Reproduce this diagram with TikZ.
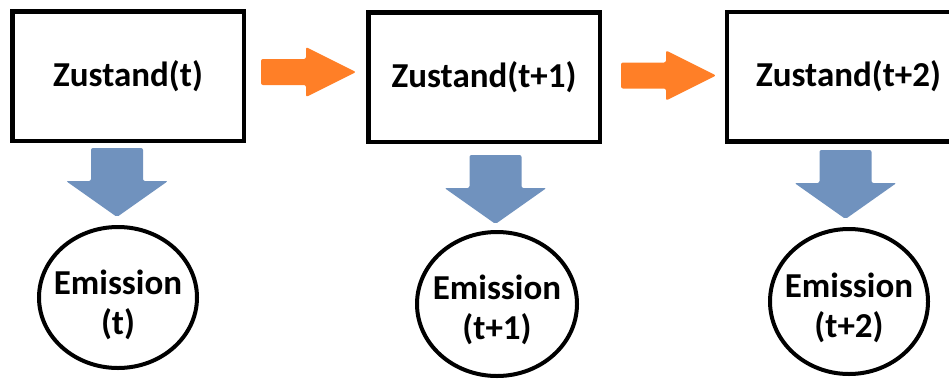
\documentclass[tikz,border=0pt]{standalone}
\usepackage{fontspec}
\setmainfont{Carlito}
\usetikzlibrary{shapes.geometric}

\definecolor{steporange}{RGB}{255,127,39}
\definecolor{emitblue}{RGB}{112,146,190}

\tikzset{
  statebox/.style={draw=black, line width=4.5pt, minimum width=231.5pt,
    minimum height=129.5pt, inner sep=0pt,
    font=\fontsize{35}{40}\selectfont\bfseries},
  emitring/.style={draw=black, line width=4pt, ellipse, inner sep=0pt},
  emitlabel/.style={align=center, inner sep=0pt,
    font=\fontsize{35}{40}\selectfont\bfseries},
  % horizontal block arrow, anchored at the middle of its tail
  pics/transition/.style={code={
    \fill[steporange, rounded corners=2pt]
      (0,-13) -- (45,-13) -- (45,-25) -- (95,0) -- (45,25) -- (45,13)
      -- (0,13) -- cycle;}},
  % downward block arrow, anchored at the middle of its tail
  pics/emits/.style={code={
    \fill[emitblue, rounded corners=2pt]
      (-26,0) -- (26,0) -- (26,33) -- (51,33) -- (0,69) -- (-51,33)
      -- (-26,33) -- cycle;}},
}

\begin{document}
\begin{tikzpicture}[x=1pt, y=-1pt]
  \useasboundingbox (0,0) rectangle (949,381);
  \clip (0,0) rectangle (949,381);

  % hidden states
  \node[statebox] (z1) at (128,76) {Zustand(t)};
  \node[statebox] (z2) at (484,77) {Zustand(t+1)};
  \node[statebox, minimum width=243pt] (z3) at (848.5,76.5) {Zustand(t+2)};

  % emissions
  \node[emitring, minimum width=158pt, minimum height=141pt] (e1) at (118,297.5) {};
  \node[emitring, minimum width=160pt, minimum height=144pt] (e2) at (497,304) {};
  \node[emitring, minimum width=158pt, minimum height=145pt] (e3) at (849,301.5) {};
  \node[emitlabel] (e1t) at ([yshift=-7.5pt]e1.center) {Emission\\(t)};
  \node[emitlabel] (e2t) at ([yshift=-6pt]e2.center) {Emission\\(t+1)};
  \node[emitlabel] (e3t) at ([yshift=-6.5pt]e3.center) {Emission\\(t+2)};

  % transitions between states
  \pic at (261,72) {transition};
  \pic at (621,75.5) {transition};

  % emissions from states
  \pic at (117,148) {emits};
  \pic at (495.5,155) {emits};
  \pic at (845.5,150) {emits};
\end{tikzpicture}
\end{document}
